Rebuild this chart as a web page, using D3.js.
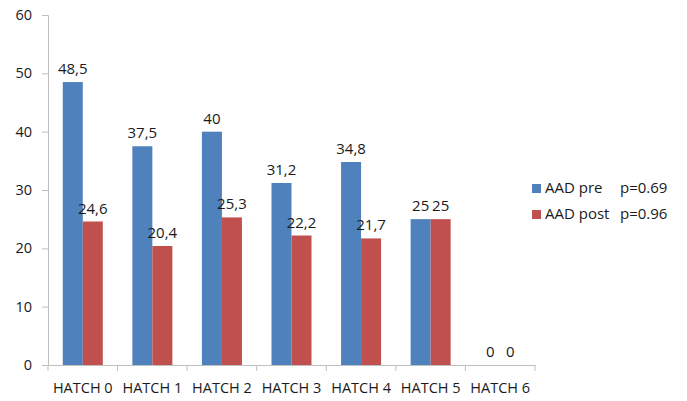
<!DOCTYPE html>
<html>
<head>
<meta charset="utf-8">
<script src="https://cdn.jsdelivr.net/npm/d3@7"></script>
<style>
  body { margin: 0; background: #fff; }
  text { font-family: "Open Sans", "Liberation Sans", sans-serif; fill: #1a1a1a; }
</style>
</head>
<body>
<svg id="chart" width="687" height="401"></svg>
<script>
var categories = ["HATCH 0", "HATCH 1", "HATCH 2", "HATCH 3", "HATCH 4", "HATCH 5", "HATCH 6"];
var aadPre = [48.5, 37.5, 40, 31.2, 34.8, 25, 0];
var aadPost = [24.6, 20.4, 25.3, 22.2, 21.7, 25, 0];
var seriesNames = ["AAD pre", "AAD post"];
var pValues = ["p=0.69", "p=0.96"];
var yTicks = [0, 10, 20, 30, 40, 50, 60];

var blue = "#4f81bd", red = "#c0504d", axisColor = "#bfbfbf";

var svg = d3.select("#chart");

var x = d3.scaleBand().domain(categories).range([48, 535]).paddingInner(0.425).paddingOuter(0.2125);
var inner = d3.scaleBand().domain([0, 1]).range([0, x.bandwidth()]);
var y = d3.scaleLinear().domain([0, 60]).range([365, 15]);

// y axis
var yAxis = svg.append("g").attr("transform", "translate(48,0)")
    .call(d3.axisLeft(y).tickValues(yTicks).tickSize(6).tickPadding(10));
yAxis.select(".domain").attr("stroke", axisColor);
yAxis.selectAll(".tick line").attr("stroke", axisColor);
yAxis.selectAll(".tick text").attr("font-size", 14.5).attr("fill", "#1a1a1a");

// x axis
var xAxis = svg.append("g").attr("transform", "translate(0,365)")
    .call(d3.axisBottom(x).tickSize(0).tickPadding(13));
xAxis.select(".domain").attr("stroke", axisColor);
xAxis.selectAll(".tick text").attr("font-size", 14.5).attr("fill", "#1a1a1a").attr("dy", "1em");
// category separators
var step = x.step();
xAxis.selectAll(".sep").data(d3.range(categories.length + 1)).enter().append("line")
    .attr("x1", function(i) { return 48 + i * step; })
    .attr("x2", function(i) { return 48 + i * step; })
    .attr("y1", 0).attr("y2", 6)
    .attr("stroke", axisColor);

var series = [aadPre, aadPost];
var colors = [blue, red];

series.forEach(function(vals, s) {
    var g = svg.append("g");
    g.selectAll("rect").data(vals).enter().append("rect")
        .attr("x", function(d, i) { return x(categories[i]) + inner(s); })
        .attr("y", function(d) { return y(d); })
        .attr("width", inner.bandwidth())
        .attr("height", function(d) { return y(0) - y(d); })
        .attr("fill", colors[s]);
    g.selectAll("text").data(vals).enter().append("text")
        .attr("x", function(d, i) { return x(categories[i]) + inner(s) + inner.bandwidth() / 2; })
        .attr("y", function(d) { return y(d) - 8; })
        .attr("text-anchor", "middle")
        .attr("font-size", 15)
        .text(function(d) { return String(d).replace(".", ","); });
});

// legend
var legend = svg.append("g");
seriesNames.forEach(function(name, s) {
    var ly = 193 + s * 26;
    legend.append("rect").attr("x", 532).attr("y", ly - 9).attr("width", 9).attr("height", 9).attr("fill", colors[s]);
    legend.append("text").attr("x", 545).attr("y", ly).attr("font-size", 15).text(name);
    legend.append("text").attr("x", 620).attr("y", ly).attr("font-size", 15).text(pValues[s]);
});
</script>
</body>
</html>
